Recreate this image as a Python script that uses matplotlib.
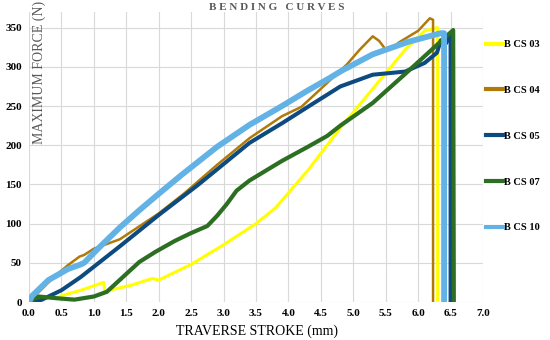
import matplotlib
matplotlib.use('Agg')
import matplotlib.pyplot as plt

# valeurs (course en mm, force en N)
x03 = [0.1, 0.2, 0.45, 0.5, 0.8, 1.15, 1.17, 1.4, 1.6, 1.9, 2.0, 2.5, 3.0, 3.5, 3.8, 4.3, 4.8, 5.3, 5.8, 6.1, 6.29, 6.30, 6.30]
y03 = [3, 6, 6, 8, 15, 25, 14, 18, 22, 30, 28, 48, 73, 100, 120, 168, 222, 272, 322, 346, 350, 350, 0]

x04 = [0.0, 0.3, 0.5, 0.6, 0.78, 0.85, 1.0, 1.4, 2.0, 2.4, 2.9, 3.4, 3.9, 4.2, 4.5, 4.9, 5.1, 5.3, 5.4, 5.5, 5.6, 5.7, 6.0, 6.18, 6.23, 6.23]
y04 = [0, 25, 40, 47, 58, 60, 68, 80, 113, 139, 175, 209, 237, 249, 272, 303, 322, 339, 333, 322, 324, 331, 346, 362, 360, 0]

x05 = [0.1, 0.2, 0.5, 0.8, 1.4, 2.0, 2.6, 3.0, 3.4, 3.9, 4.3, 4.8, 5.3, 5.8, 6.1, 6.29, 6.35, 6.43, 6.48, 6.50, 6.50]
y05 = [0, 3, 15, 32, 71, 111, 149, 176, 203, 228, 249, 275, 290, 294, 305, 318, 334, 330, 342, 343, 0]

x07 = [0.0, 0.15, 0.4, 0.7, 1.0, 1.2, 1.45, 1.7, 1.95, 2.25, 2.5, 2.75, 2.9, 3.05, 3.2, 3.4, 3.6, 3.9, 4.3, 4.6, 4.8, 5.3, 5.8, 6.25, 6.45, 6.54, 6.55]
y07 = [0, 7, 5, 3, 7, 13, 32, 51, 64, 78, 88, 97, 110, 125, 142, 155, 165, 180, 198, 212, 225, 254, 291, 325, 340, 347, 0]

x10 = [0.0, 0.05, 0.3, 0.6, 0.8, 0.85, 1.1, 1.4, 1.7, 2.0, 2.35, 2.9, 3.4, 3.9, 4.3, 4.64, 4.82, 5.3, 5.85, 6.35, 6.40, 6.40]
y10 = [0, 8, 28, 42, 48, 50, 71, 95, 117, 138, 162, 198, 226, 250, 270, 286, 295, 316, 332, 343, 343, 0]

labels = ['B CS 03', 'B CS 04', 'B CS 05', 'B CS 07', 'B CS 10']
xticks = [i * 0.5 for i in range(15)]
yticks = [0, 50, 100, 150, 200, 250, 300, 350]

plt.rcParams['font.family'] = ['Liberation Serif', 'DejaVu Serif']

fig = plt.figure(figsize=(5.5, 3.4), dpi=100)
ax = fig.add_axes([29 / 550, 1 - 302 / 340, 454 / 550, 290 / 340])

ax.plot(x03, y03, color='#FFFF00', lw=2.2, label=labels[0])
ax.plot(x04, y04, color='#B07A08', lw=1.8, label=labels[1])
ax.plot(x05, y05, color='#0D4A80', lw=2.9, label=labels[2])
ax.plot(x07, y07, color='#2C6E22', lw=3.0, label=labels[3])
ax.plot(x10, y10, color='#62B2E6', lw=4.2, label=labels[4])

ax.set_xlim(0, 7.0)
ax.set_ylim(0, 370)
ax.set_xticks(xticks)
ax.set_xticklabels(['%.1f' % v for v in xticks])
ax.set_yticks(yticks)
ax.grid(True, color='#D9D9D9', lw=0.8)
ax.set_axisbelow(True)
for s in ax.spines.values():
    s.set_visible(False)
ax.tick_params(length=0, labelsize=8)
ax.tick_params(axis='x', pad=5)
ax.tick_params(axis='y', pad=5)
for t in ax.get_xticklabels() + ax.get_yticklabels():
    t.set_fontweight('bold')

fig.text(277 / 550, 1 - 8 / 340, 'B E N D I N G   C U R V E S', ha='center', va='center',
         fontsize=8, fontweight='bold', color='#595959')
fig.text(39 / 550, 1 - 72 / 340, 'MAXIMUM FORCE (N)', rotation=90, ha='center', va='center',
         fontsize=10, color='#595959')
fig.text(257 / 550, 1 - 331 / 340, 'TRAVERSE STROKE (mm)', ha='center', va='center',
         fontsize=10)

leg = ax.legend(loc='upper left', bbox_to_anchor=(486 / 550, 1 - 40 / 340), bbox_transform=fig.transFigure,
                frameon=False, fontsize=7.5, labelspacing=3.5, handlelength=1.6, handletextpad=0.1,
                borderaxespad=0, borderpad=0)
for t in leg.get_texts():
    t.set_fontweight('bold')
for h in leg.get_lines():
    h.set_linewidth(3)

fig.savefig('out.png', dpi=100)
